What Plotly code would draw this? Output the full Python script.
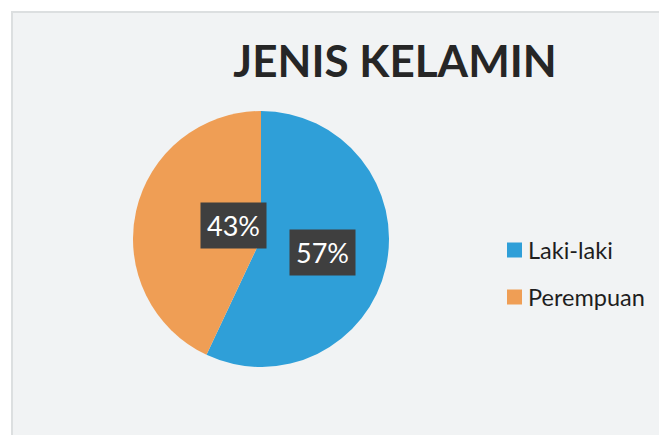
import math
import plotly.graph_objects as go

categories = ["Laki-laki", "Perempuan"]
values = [57, 43]
colors = ["#2f9fd8", "#ef9e55"]
title_text = "JENIS KELAMIN"

W, H = 667, 435
OFF = 8  # page body margin offset
cx, cy, R = 261 - OFF, 239 - OFF, 128  # pie center / radius in px


def px2x(p):
    return p / W


def px2y(p):
    return 1 - p / H


fig = go.Figure()
fig.add_trace(go.Pie(
    labels=categories, values=values, sort=False, direction="clockwise",
    rotation=0, marker=dict(colors=colors, line=dict(width=0)),
    textinfo="none", hoverinfo="label+percent", showlegend=False,
    domain=dict(x=[px2x(cx - R), px2x(cx + R)], y=[px2y(cy + R), px2y(cy - R)]),
))

# percentage labels placed at slice mid-angles computed from the data
total = sum(values)
start = 0.0
annots = []
for v in values:
    frac = v / total
    mid = (start + frac / 2) * 2 * math.pi
    start += frac
    lx = cx + 0.49 * R * math.sin(mid)
    ly = cy - 0.49 * R * math.cos(mid)
    annots.append(dict(
        x=px2x(lx), y=px2y(ly), xref="paper", yref="paper",
        text=f"{round(frac * 100)}%", showarrow=False,
        font=dict(family="Lato, Open Sans, sans-serif", size=27, color="white"),
        bgcolor="#3f3f3f", borderpad=6,
    ))

# legend (drawn manually to reproduce its wide entry spacing)
shapes = [dict(type="rect", xref="paper", yref="paper", x0=px2x(12 - OFF), x1=1.0,
               y0=0, y1=px2y(12 - OFF), fillcolor="#f1f3f4",
               line=dict(color="#dcdfe0", width=2), layer="below")]
leg_x, leg_y0, leg_dy, sq = 507 - OFF, 250 - OFF, 47, 15
for i, (name, col) in enumerate(zip(categories, colors)):
    yy = leg_y0 + i * leg_dy
    shapes.append(dict(type="rect", xref="paper", yref="paper",
                       x0=px2x(leg_x), x1=px2x(leg_x + sq),
                       y0=px2y(yy + sq / 2), y1=px2y(yy - sq / 2),
                       fillcolor=col, line=dict(width=0)))
    annots.append(dict(x=px2x(leg_x + sq + 4), y=px2y(yy), xref="paper", yref="paper",
                       xanchor="left", yanchor="middle", text=name, showarrow=False,
                       font=dict(family="Lato, Open Sans, sans-serif", size=23.5, color="#1e1e1e")))

fig.update_layout(
    width=W, height=H,
    margin=dict(l=0, r=0, t=0, b=0),
    paper_bgcolor="white",
    plot_bgcolor="white",
    title=dict(text=title_text, x=px2x(395 - OFF), xanchor="center", y=px2y(62 - OFF), yanchor="middle",
               font=dict(family="Lato, sans-serif", size=44, color="#262626", weight="bold")),
    showlegend=False,
    annotations=annots,
    shapes=shapes,
)

fig.write_html("out.html")
